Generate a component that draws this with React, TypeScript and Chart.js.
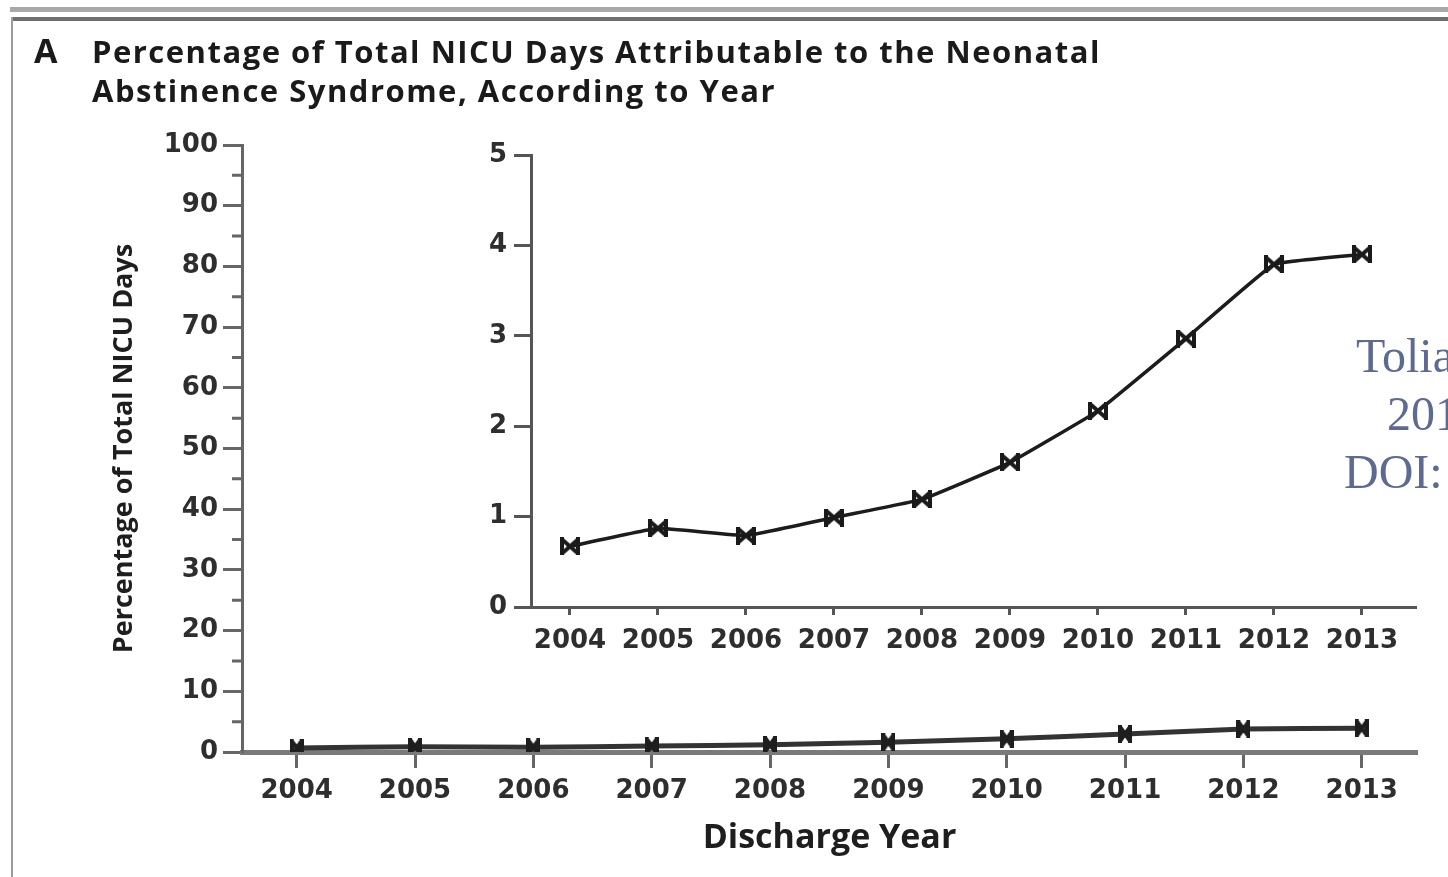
import React, { useEffect, useRef } from "react";
import { Chart, registerables } from "chart.js";

Chart.register(...registerables);

// ---- data ----
const years = [2004, 2005, 2006, 2007, 2008, 2009, 2010, 2011, 2012, 2013];
const nasPercent = [0.67, 0.87, 0.79, 0.99, 1.19, 1.6, 2.17, 2.97, 3.79, 3.9];
const mainYTicks = [0, 10, 20, 30, 40, 50, 60, 70, 80, 90, 100];
const mainYMinorTicks = [5, 15, 25, 35, 45, 55, 65, 75, 85, 95];
const insetYTicks = [0, 1, 2, 3, 4, 5];

const panelLetter = "A";
const titleLines = [
  "Percentage of Total NICU Days Attributable to the Neonatal",
  "Abstinence Syndrome, According to Year",
];
const yAxisTitle = "Percentage of Total NICU Days";
const xAxisTitle = "Discharge Year";
const sourceNote = ["Tolia", "201", "DOI:"];

const W = 1448;
const H = 877;

const tickFont = { family: "'DejaVu Sans', sans-serif", weight: "bold" as const, size: 26 };

function makeMarker(w: number, h: number, lw: number, color: string) {
  const c = document.createElement("canvas");
  c.width = w;
  c.height = h;
  const g = c.getContext("2d")!;
  g.strokeStyle = color;
  g.lineWidth = lw;
  const p = lw / 2;
  g.beginPath();
  g.moveTo(p, p);
  g.lineTo(w - p, h - p);
  g.moveTo(w - p, p);
  g.lineTo(p, h - p);
  g.moveTo(p, 0);
  g.lineTo(p, h);
  g.moveTo(w - p, 0);
  g.lineTo(w - p, h);
  g.stroke();
  return c;
}

const minorTickPlugin = {
  id: "minorTicks",
  afterDraw(chart: any) {
    const s = chart.scales.y;
    const ctx = chart.ctx;
    const x = chart.chartArea.left;
    ctx.save();
    ctx.strokeStyle = "#666";
    ctx.lineWidth = 3;
    ctx.beginPath();
    mainYMinorTicks.forEach((v) => {
      const y = s.getPixelForValue(v);
      ctx.moveTo(x - 10, y);
      ctx.lineTo(x, y);
    });
    ctx.stroke();
    ctx.restore();
  },
};

export default function App() {
  const mainRef = useRef<HTMLCanvasElement>(null);
  const insetRef = useRef<HTMLCanvasElement>(null);

  useEffect(() => {
    document.body.style.margin = "0";
    const points = years.map((x, i) => ({ x, y: nasPercent[i] }));

    const main = new Chart(mainRef.current!, {
      type: "line",
      data: {
        datasets: [
          {
            data: points,
            borderColor: "#333",
            borderWidth: 5,
            pointStyle: makeMarker(14, 18, 4, "#1e1e1e") as any,
            pointRadius: 8,
            tension: 0.1,
          },
        ],
      },
      options: {
        responsive: false,
        animation: false,
        events: [],
        layout: { padding: { left: 92, right: 31, top: 145, bottom: 15 } },
        plugins: { legend: { display: false }, tooltip: { enabled: false } },
        scales: {
          x: {
            type: "linear",
            min: 2003.538,
            max: 2013.467,
            afterBuildTicks: (s: any) => {
              s.ticks = years.map((v) => ({ value: v }));
            },
            afterFit: (s: any) => {
              s.height = 110;
            },
            grid: { drawOnChartArea: false, drawTicks: true, tickLength: 16, tickColor: "#666", tickWidth: 3 },
            border: { color: "#7a7a7a", width: 5 },
            ticks: {
              padding: 8,
              color: "#2e2e2e",
              font: tickFont,
              autoSkip: false,
              maxRotation: 0,
              callback: (v: any) => String(v),
            },
            title: {
              display: true,
              text: xAxisTitle,
              color: "#1e1e1e",
              font: { family: "'Open Sans', sans-serif", weight: "bold", size: 34 },
              padding: { top: 0, bottom: 3 },
            },
          },
          y: {
            type: "linear",
            min: 0,
            max: 100,
            afterBuildTicks: (s: any) => {
              s.ticks = mainYTicks.map((v) => ({ value: v }));
            },
            afterFit: (s: any) => {
              s.width = 150;
            },
            grid: { drawOnChartArea: false, drawTicks: true, tickLength: 19, tickColor: "#666", tickWidth: 3 },
            border: { color: "#666", width: 3 },
            ticks: { padding: 5, color: "#2e2e2e", font: tickFont, callback: (v: any) => String(v) },
            title: {
              display: true,
              text: yAxisTitle,
              color: "#1e1e1e",
              font: { family: "'Open Sans', sans-serif", weight: "bold", size: 27 },
              padding: { top: 16, bottom: 0 },
            },
          },
        },
      },
      plugins: [minorTickPlugin],
    });

    const inset = new Chart(insetRef.current!, {
      type: "line",
      data: {
        datasets: [
          {
            data: points,
            borderColor: "#1c1c1c",
            borderWidth: 3.5,
            pointStyle: makeMarker(20, 18, 4, "#1a1a1a") as any,
            pointRadius: 10,
            tension: 0.08,
          },
        ],
      },
      options: {
        responsive: false,
        animation: false,
        events: [],
        layout: { padding: { left: 471, right: 32, top: 155, bottom: 210 } },
        plugins: { legend: { display: false }, tooltip: { enabled: false } },
        scales: {
          x: {
            type: "linear",
            min: 2003.557,
            max: 2013.614,
            afterBuildTicks: (s: any) => {
              s.ticks = years.map((v) => ({ value: v }));
            },
            afterFit: (s: any) => {
              s.height = 60;
            },
            grid: { drawOnChartArea: false, drawTicks: true, tickLength: 8, tickColor: "#555", tickWidth: 3 },
            border: { color: "#555", width: 3 },
            ticks: {
              padding: 11,
              color: "#2e2e2e",
              font: tickFont,
              autoSkip: false,
              maxRotation: 0,
              callback: (v: any) => String(v),
            },
          },
          y: {
            type: "linear",
            min: 0,
            max: 5,
            afterBuildTicks: (s: any) => {
              s.ticks = insetYTicks.map((v) => ({ value: v }));
            },
            afterFit: (s: any) => {
              s.width = 60;
            },
            grid: { drawOnChartArea: false, drawTicks: true, tickLength: 17, tickColor: "#555", tickWidth: 3 },
            border: { color: "#555", width: 3 },
            ticks: { padding: 7, color: "#2e2e2e", font: tickFont, callback: (v: any) => String(v) },
          },
        },
      },
    });

    return () => {
      main.destroy();
      inset.destroy();
    };
  }, []);

  const abs: React.CSSProperties = { position: "absolute" };
  const titleStyle: React.CSSProperties = {
    ...abs,
    fontFamily: "'Open Sans', sans-serif",
    fontWeight: 700,
    fontSize: 31,
    lineHeight: "39px",
    letterSpacing: "1.5px",
    color: "#1a1a1a",
    whiteSpace: "nowrap",
  };
  const noteStyle: React.CSSProperties = {
    ...abs,
    fontFamily: "'Liberation Serif', 'DejaVu Serif', serif",
    fontSize: 48,
    lineHeight: "48px",
    color: "#5d6a92",
    whiteSpace: "nowrap",
  };

  return (
    <div style={{ position: "relative", width: W, height: H, overflow: "hidden", background: "#fff" }}>
      {/* frame lines */}
      <div style={{ ...abs, left: 10, top: 7, width: W - 10, height: 5, background: "#a9a9a9" }} />
      <div style={{ ...abs, left: 12, top: 17, width: W - 12, height: 4, background: "#6e6e6e" }} />
      <div style={{ ...abs, left: 11, top: 17, width: 2, height: H - 17, background: "#9c9c9c" }} />

      <canvas ref={mainRef} width={W} height={H} style={{ ...abs, left: 0, top: 0, width: W, height: H }} />
      <canvas ref={insetRef} width={W} height={H} style={{ ...abs, left: 0, top: 0, width: W, height: H }} />

      <div style={{ ...titleStyle, left: 34, top: 31, fontSize: 34, letterSpacing: 0 }}>{panelLetter}</div>
      <div style={{ ...titleStyle, left: 92, top: 32 }}>
        {titleLines.map((t, i) => (
          <div key={i}>{t}</div>
        ))}
      </div>

      <div style={{ ...noteStyle, left: 1356, top: 332 }}>{sourceNote[0]}</div>
      <div style={{ ...noteStyle, left: 1387, top: 390 }}>{sourceNote[1]}</div>
      <div style={{ ...noteStyle, left: 1344, top: 448 }}>{sourceNote[2]}</div>
    </div>
  );
}
